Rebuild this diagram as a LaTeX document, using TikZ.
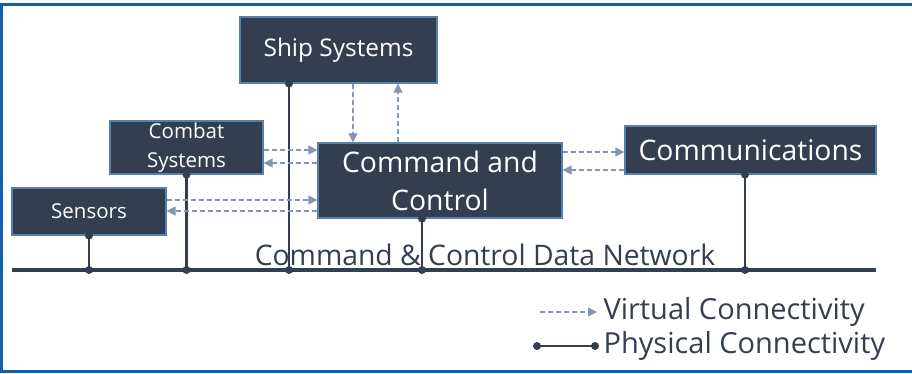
\documentclass[tikz,border=0pt]{standalone}
\usepackage{fontspec}
\setmainfont{Open Sans}
\usetikzlibrary{arrows.meta}
\definecolor{slate}{RGB}{51,63,80}
\definecolor{edgeblue}{RGB}{84,130,173}
\definecolor{virtcol}{RGB}{132,151,176}
\definecolor{framecol}{RGB}{16,96,176}

\begin{document}
\begin{tikzpicture}[x=1pt,y=-1pt,
    box/.style={draw=edgeblue,line width=1.2pt,fill=slate,text=white,align=center,inner sep=0pt},
    virt/.style={draw=virtcol,line width=1.1pt,dash pattern=on 5pt off 3pt,-{Triangle[length=9pt,width=9pt]}},
    phys/.style={draw=slate,line width=2.2pt},
    dot/.style={circle,fill=slate,inner sep=0pt,minimum size=8pt},
    big/.style={font=\fontsize{28.3}{38}\selectfont},
    mid/.style={font=\fontsize{24.4}{29}\selectfont},
    small/.style={font=\fontsize{20.5}{29}\selectfont}]
  \useasboundingbox (0,0) rectangle (912,373);
  \draw[framecol,line width=3pt] (1.5,373) -- (1.5,4) -- (912,4);
  \draw[framecol,line width=3pt] (0,371.5) -- (912,371.5);
        \node[box,mid,  minimum width=197pt,minimum height=66pt] (ship)   at (338.5,50)  {Ship Systems};
        \node[box,small,minimum width=153pt,minimum height=53pt] (combat) at (186.5,147.5) {Combat\\Systems};
        \node[box,small,minimum width=154pt,minimum height=47pt] (sens)   at (89,211.5)  {Sensors};
        \node[box,big,  minimum width=244pt,minimum height=75pt] (cc)     at (440,180.5) {Command and\\Control};
        \node[box,big,  minimum width=251pt,minimum height=48pt] (comm)   at (750.5,150) {Communications};
        \coordinate (busL) at (12,270);
        \coordinate (busR) at (876,270);
        \node[big,text=slate] (net) at (485,255) {Command \& Control Data Network};
  % physical network
  \draw[slate,line width=4pt] (busL) -- (busR);
  \draw[phys] (sens.south)          -- (sens.south |- busL)   node[dot]{} node[dot,pos=0]{};
  \draw[phys] (combat.south)        -- (combat.south |- busL) node[dot]{} node[dot,pos=0]{};
  \draw[phys] (289,0 |- ship.south) -- (289,0 |- busL)        node[dot]{} node[dot,pos=0]{};
  \draw[phys] (422,0 |- cc.south)   -- (422,0 |- busL)        node[dot]{} node[dot,pos=0]{};
  \draw[phys] (745,0 |- comm.south) -- (745,0 |- busL)        node[dot]{} node[dot,pos=0]{};
  % virtual links
  \draw[virt] (353,0 |- ship.south)   -- (353,0 |- cc.north);
  \draw[virt] (398,0 |- cc.north)     -- (398,0 |- ship.south);
  \draw[virt] (combat.east |- 0,150)  -- (cc.west |- 0,150);
  \draw[virt] (cc.west |- 0,163)      -- (combat.east |- 0,163);
  \draw[virt] (sens.east |- 0,200)    -- (cc.west |- 0,200);
  \draw[virt] (cc.west |- 0,211)      -- (sens.east |- 0,211);
  \draw[virt] (cc.east |- 0,152)      -- (comm.west |- 0,152);
  \draw[virt] (comm.west |- 0,170)    -- (cc.east |- 0,170);
  % legend
        \coordinate (vA) at (540,312);
        \coordinate (vB) at (597,312);
        \coordinate (pA) at (537,346);
        \coordinate (pB) at (595,346);
        \node[big,text=slate,anchor=west,font=\fontsize{29}{34}\selectfont] (vtxt) at (600,312) {Virtual Connectivity};
        \node[big,text=slate,anchor=west,font=\fontsize{29}{34}\selectfont] (ptxt) at (600,346) {Physical Connectivity};
  \draw[virt] (vA) -- (vB);
  \draw[phys] (pA) -- (pB) node[dot]{} node[dot,pos=0]{};
\end{tikzpicture}
\end{document}
